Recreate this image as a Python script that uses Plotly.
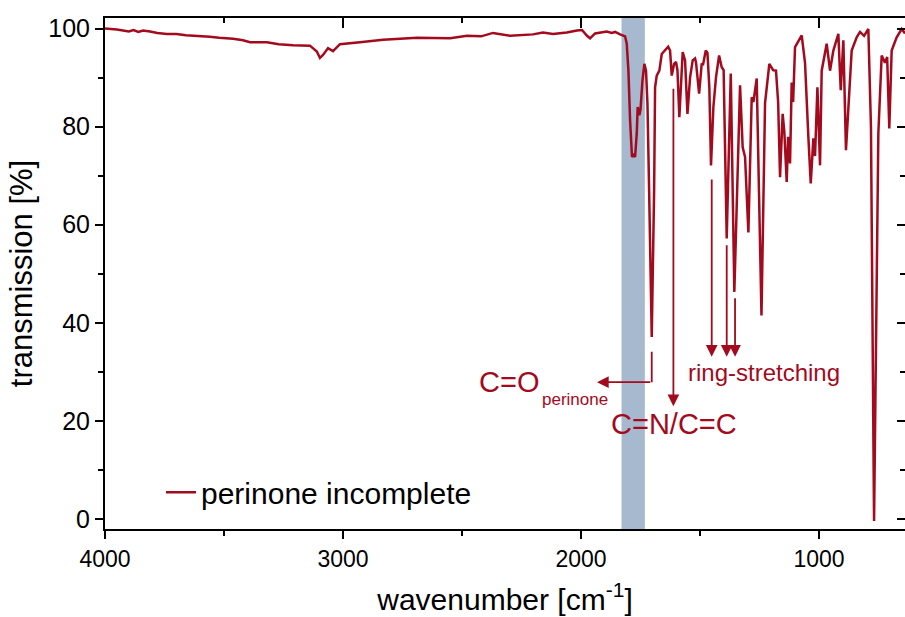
import plotly.graph_objects as go

# ---------------- data ----------------
wavenumber = [
    4000, 3950, 3900, 3880, 3860, 3840, 3811, 3780, 3740, 3700, 3660, 3601, 3560, 3520,
    3462, 3420, 3391, 3320, 3270, 3210, 3139, 3110, 3097, 3084, 3063, 3042, 3013,
    2929, 2832, 2689, 2550, 2479, 2420, 2370, 2298, 2202, 2160, 2118, 2060, 2017, 1996,
    1975, 1962, 1941, 1920, 1892, 1871, 1857, 1836, 1815, 1808, 1801, 1794, 1786, 1780,
    1773, 1766, 1762, 1755, 1750, 1742, 1734, 1727, 1721, 1714, 1703, 1693, 1689, 1682,
    1671, 1661, 1647, 1634, 1626, 1619, 1609, 1601, 1595, 1587, 1573, 1563, 1553, 1542,
    1531, 1521, 1517, 1504, 1493, 1488, 1476, 1469, 1461, 1454, 1444, 1433, 1420, 1409,
    1401, 1388, 1371, 1356, 1332, 1321, 1311, 1297, 1283, 1276, 1262, 1242, 1227, 1209,
    1193, 1181, 1172, 1164, 1153, 1146, 1136, 1130, 1122, 1115, 1109, 1101, 1073, 1059,
    1045, 1035, 1024, 1017, 1007, 996, 989, 968, 954, 940, 919, 909, 898, 887, 863,
    842, 828, 811, 793, 782, 769, 758, 751, 737, 723, 714, 705, 695, 674, 653, 639,
]
transmission = [
    100.0, 99.8, 99.4, 99.7, 99.3, 99.6, 99.4, 99.1, 98.9, 98.9, 98.6, 98.5, 98.3, 98.1,
    97.9, 97.6, 97.2, 97.2, 96.8, 96.6, 96.5, 95.3, 94.0, 94.6, 96.0, 95.4, 96.8,
    97.2, 97.7, 98.1, 98.0, 98.5, 98.4, 99.1, 98.5, 98.8, 99.2, 98.9, 99.2, 99.6, 99.7,
    98.5, 98.0, 99.0, 99.2, 99.4, 99.1, 99.3, 98.8, 98.4, 96.9, 91.4, 81.3, 73.8, 74.2,
    73.8, 78.6, 84.0, 82.3, 83.5, 89.4, 92.8, 91.4, 84.7, 67.0, 37.1, 67.0, 88.0, 90.4,
    91.4, 94.8, 95.5, 96.3, 95.5, 90.4, 92.8, 93.2, 91.5, 81.9, 95.2, 93.5, 82.6, 90.0,
    93.5, 93.9, 93.1, 86.7, 92.9, 92.5, 95.5, 95.0, 88.0, 72.1, 84.0, 90.1, 94.5, 92.1,
    91.5, 57.2, 90.8, 46.3, 88.4, 75.8, 73.8, 58.4, 86.0, 85.0, 89.8, 41.5, 84.8, 92.8,
    91.5, 91.4, 85.0, 69.7, 82.6, 79.0, 68.7, 77.9, 72.5, 89.0, 85.0, 96.2, 98.6, 93.0,
    77.9, 68.4, 77.6, 74.0, 88.0, 72.1, 91.4, 96.9, 91.4, 95.5, 98.9, 87.4, 97.6, 75.2, 95.5,
    98.2, 99.3, 98.5, 99.9, 80.0, -0.4, 50.0, 78.6, 94.5, 93.0, 94.2, 79.6, 95.5, 98.2, 99.9, 99.0,
]
series_name = "perinone incomplete"

x_ticks = [4000, 3000, 2000, 1000]
y_ticks = [0, 20, 40, 60, 80, 100]

band_range = [1830, 1732]              # highlighted C=O region

# annotation anchors (wavenumber, transmission)
co_peak_x = 1703
co_line_top = 34.4
co_line_y = 27.9
co_arrow_tip_x = 1933
cn_x = 1612
cn_start = 88.0
cn_tip = 23.0
ring_x = [1451, 1388, 1353]
ring_start = [69.5, 56.1, 45.3]
ring_tip = 33.1

RED = "#a30a1d"
FONT = "Arial, Liberation Sans, sans-serif"

fig = go.Figure()

fig.add_vrect(x0=band_range[0], x1=band_range[1], fillcolor="#a7b9cf",
              opacity=1, line_width=0, layer="below")

fig.add_trace(go.Scatter(x=wavenumber, y=transmission, mode="lines",
                         line=dict(color=RED, width=2.5),
                         name=series_name, showlegend=True))

# dummy traces so mirrored axes (top / right, inward ticks) are drawn
fig.add_trace(go.Scatter(x=[wavenumber[0]], y=[transmission[0]], xaxis="x2", yaxis="y",
                         mode="markers", marker=dict(opacity=0), showlegend=False,
                         hoverinfo="skip"))
fig.add_trace(go.Scatter(x=[wavenumber[0]], y=[transmission[0]], xaxis="x", yaxis="y2",
                         mode="markers", marker=dict(opacity=0), showlegend=False,
                         hoverinfo="skip"))

xr = [4000, 639]
yr = [-2.04, 102.14]

axis_common = dict(showline=True, linecolor="black", linewidth=2,
                   showgrid=False, zeroline=False, tickcolor="black", tickwidth=2)

fig.update_layout(
    width=905, height=617,
    margin=dict(l=105, r=0, t=18, b=88),
    paper_bgcolor="white", plot_bgcolor="white",
    font=dict(family=FONT, color="black"),
    xaxis=dict(range=xr, tickvals=x_ticks, ticks="outside", ticklen=8,
               minor=dict(dtick=500, tick0=0, ticks="outside", ticklen=5,
                          tickcolor="black", tickwidth=2),
               tickfont=dict(size=23, family=FONT),
               title=dict(text="wavenumber [cm<sup>-1</sup>]", font=dict(size=30, family=FONT),
                          standoff=18),
               **axis_common),
    yaxis=dict(range=yr, tickvals=y_ticks, ticks="outside", ticklen=8,
               minor=dict(dtick=10, tick0=0, ticks="outside", ticklen=5,
                          tickcolor="black", tickwidth=2),
               tickfont=dict(size=25, family=FONT),
               title=dict(text="transmission [%]", font=dict(size=31, family=FONT),
                          standoff=6),
               **axis_common),
    xaxis2=dict(range=xr, overlaying="x", side="top", anchor="y", tickvals=x_ticks,
                ticks="inside", ticklen=10, showticklabels=False,
                minor=dict(dtick=500, tick0=0, ticks="inside", ticklen=5,
                           tickcolor="black", tickwidth=2),
                **axis_common),
    yaxis2=dict(range=yr, overlaying="y", side="right", anchor="x", tickvals=y_ticks,
                ticks="inside", ticklen=8, showticklabels=False,
                minor=dict(dtick=10, tick0=0, ticks="inside", ticklen=5,
                           tickcolor="black", tickwidth=2),
                **axis_common),
    legend=dict(x=0.07, y=0.072, xanchor="left", yanchor="middle",
                font=dict(size=30, family=FONT), bgcolor="rgba(0,0,0,0)",
                borderwidth=0),
    showlegend=True,
)

arrow_style = dict(showarrow=True, arrowcolor=RED, arrowwidth=1.8, arrowsize=1.3,
                   text="", xref="x", yref="y", axref="x", ayref="y", standoff=0)

# C=O elbow arrow
fig.add_annotation(x=co_peak_x, y=co_line_y, ax=co_peak_x, ay=co_line_top,
                   arrowhead=0, **arrow_style)
fig.add_annotation(x=co_arrow_tip_x, y=co_line_y, ax=co_peak_x, ay=co_line_y,
                   arrowhead=2, **arrow_style)
# C=N/C=C arrow
fig.add_annotation(x=cn_x, y=cn_tip, ax=cn_x, ay=cn_start, arrowhead=2, **arrow_style)
# ring stretching arrows
for rx, rs in zip(ring_x, ring_start):
    fig.add_annotation(x=rx, y=ring_tip, ax=rx, ay=rs, arrowhead=2, **arrow_style)

# labels
fig.add_annotation(x=2302, y=28.0, text="C=O", showarrow=False, xref="x", yref="y",
                   font=dict(size=29, color=RED, family=FONT), xanchor="center", yanchor="middle")
fig.add_annotation(x=2172, y=24.3, text="perinone", showarrow=False, xref="x", yref="y",
                   font=dict(size=17, color=RED, family=FONT), xanchor="left", yanchor="middle")
fig.add_annotation(x=1609, y=19.4, text="C=N/C=C", showarrow=False, xref="x", yref="y",
                   font=dict(size=29, color=RED, family=FONT), xanchor="center", yanchor="middle")
fig.add_annotation(x=1233, y=29.8, text="ring-stretching", showarrow=False, xref="x", yref="y",
                   font=dict(size=24, color=RED, family=FONT), xanchor="center", yanchor="middle")

fig.write_html("out.html")
